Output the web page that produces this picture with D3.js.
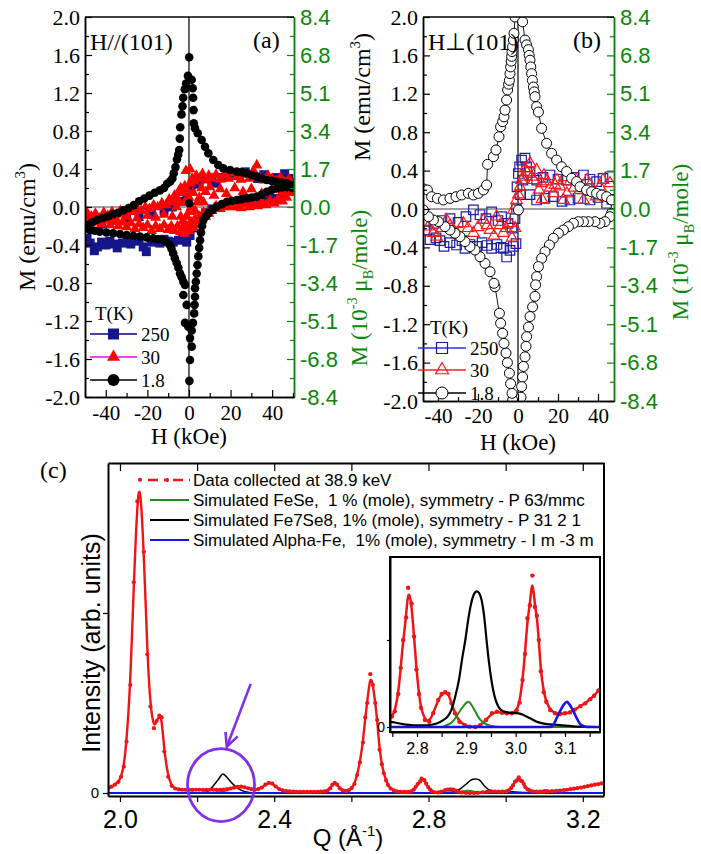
<!DOCTYPE html>
<html><head><meta charset="utf-8">
<script src="https://cdn.jsdelivr.net/npm/d3@7/dist/d3.min.js"></script>
<style>
html,body{margin:0;padding:0;background:#fff;}
svg{display:block;}
</style></head>
<body>
<svg id="fig" width="701" height="854"></svg>
<script>
// ---------- Panels (a) and (b): magnetization M (emu/cm3) vs field H (kOe) ----------
const mTicks = [-2.0,-1.6,-1.2,-0.8,-0.4,0.0,0.4,0.8,1.2,1.6,2.0];
const mMinorTicks = [-1.8,-1.4,-1.0,-0.6,-0.2,0.2,0.6,1.0,1.4,1.8];
const muTickLabels = ["-8.4","-6.8","-5.1","-3.4","-1.7","0.0","1.7","3.4","5.1","6.8","8.4"];
const hTicks = [-40,-20,0,20,40];
const hMinorTicks = [-50,-30,-10,10,30,50];
const temperatures = ["250","30","1.8"];

// H // (101)
const panelA_T250 = [[-49,-0.33],[-47.5,-0.38],[-45.5,-0.46],[-44,-0.42],[-42,-0.37],[-40,-0.4],[-38,-0.36],[-36,-0.39],[-34.5,-0.43],[-32,-0.38],[-30,-0.35],[-28,-0.39],[-26,-0.36],[-24,-0.34],[-22,-0.42],[-20.5,-0.47],[-18,-0.37],[-16,-0.35],[-14,-0.38],[-12,-0.34],[-10,-0.36],[-7.6,-0.37],[-5,-0.35],[-3,-0.33],[-1.1,-0.37],
  [-48,-0.2],[-42,-0.18],[-36,-0.14],[-30,-0.12],[-24,-0.1],[-18,-0.08],[-12,-0.04],[-8,0.0],[-4,0.06],[-1,0.12],[1,0.18],[3,0.24],[5,0.28],[8,0.3],[11,0.26],[13,0.25],[16,0.31],[19,0.35],[22,0.33],[25,0.36],[27,0.37],[30,0.32],[33,0.3],[36,0.34],[39,0.29],[42,0.31],[44,0.27],[46,0.35],[48,0.3],[49.5,0.26],
  [48,0.17],[45,0.12],[42,0.09],[40.6,0.074],[38,0.1],[35,0.06],[32,0.08],[29,0.05],[26,0.07],[23,0.03],[20,0.05],[17,0.02],[14,0.0],[11,-0.02],[8,-0.06],[6,-0.1],[4,-0.15],[2,-0.22],[0.5,-0.3]];

const panelA_T30 = [[-49,-0.06],[-47,-0.1],[-45,-0.07],[-43,-0.12],[-41,-0.06],[-39,-0.09],[-37,-0.05],[-35,-0.08],[-33,-0.04],[-31,-0.07],[-29,-0.03],[-27,-0.05],[-25,-0.02],[-23,-0.04],[-21,0.0],[-19,-0.02],[-17,0.02],[-15,0.0],[-13,0.04],[-11,0.02],[-9.5,0.08],[-8,0.05],[-7,0.12],[-6,0.1],[-5,0.16],[-4,0.2],[-3,0.15],[-2,0.22],[-1,0.18],[0.5,0.25],[1.5,0.3],[2.5,0.27],[3.5,0.33],[5,0.3],[6.5,0.35],[8,0.28],[9.5,0.33],[11,0.3],[13,0.34],[15,0.29],[17,0.33],[19,0.3],[21,0.36],[23,0.32],[25,0.29],[27,0.34],[29,0.3],[31,0.38],[32.6,0.44],[34,0.31],[36,0.28],[38,0.33],[40,0.3],[42,0.27],[44,0.31],[46,0.26],[48,0.29],[49.5,0.24],
  [49,0.15],[47,0.1],[45,0.06],[43,0.09],[41,0.04],[39,0.07],[37,0.02],[35,0.05],[33,0.01],[31,0.04],[29,0.0],[27,0.03],[25,-0.01],[23,0.02],[21,0.0],[19,0.03],[17,0.0],[15,-0.02],[13,0.01],[11,-0.04],[9.5,-0.07],[8,-0.1],[7,-0.06],[6,-0.14],[5,-0.1],[4,-0.18],[3,-0.12],[2,-0.22],[1,-0.16],[0,-0.25],[-1,-0.2],[-2,-0.28],[-3,-0.22],[-4,-0.26],[-5.5,-0.2],[-7,-0.25],[-8.5,-0.2],[-10,-0.24],[-12,-0.19],[-14,-0.23],[-16,-0.2],[-18,-0.25],[-20,-0.19],[-22,-0.22],[-24,-0.18],[-26,-0.23],[-28,-0.17],[-30,-0.21],[-32,-0.16],[-34,-0.2],[-36,-0.15],[-38,-0.19],[-40,-0.14],[-42,-0.18],[-44,-0.13],[-46,-0.16],[-48,-0.12],[-49.5,-0.15],
  [-6,0.0],[-4,-0.1],[-2,0.05],[0,-0.05],[0,0.1],[2,0.15],[4,0.05],[6,0.2],[-8,-0.1],[-3,-0.15],[3,-0.04],[5,0.1],[7,0.05],[-5,0.06],[-1,-0.1],[1,0.0],[8,0.16],[10,0.21],[12,0.12],[15,0.19],[18,0.14],[22,0.2],[26,0.16],[30,0.19],[35,0.14],[40,0.18],[45,0.15],[-12,-0.08],[-16,-0.11],[-20,-0.09],[-25,-0.12],[-30,-0.1],[-35,-0.13],[-40,-0.11],[-45,-0.09],[-1.5,0.38],[0.5,0.4]];

const panelA_T1p8 = [[-49,-0.19],[-46.5,-0.16],[-44,-0.135],[-41.5,-0.115],[-39,-0.1],[-36.5,-0.075],[-34,-0.06],[-31.5,-0.035],[-29,-0.01],[-26.5,0.02],[-24,0.06],[-21.5,0.09],[-19,0.12],[-16.5,0.15],[-14,0.175],[-12,0.2],[-10.5,0.245],[-9,0.27],[-8,0.3],[-7.3,0.355],[-6.5,0.42],[-5.8,0.5],[-5.2,0.55],[-4.7,0.6],[-4.4,0.72],[-4.2,0.84],[-3.6,0.975],[-3.1,1.06],[-2.8,1.15],[-2,1.24],[-1.4,1.3],[-0.5,1.38],[0.1,1.576],
  [1.3,1.34],[1.8,1.25],[2.0,1.15],[2.2,1.02],[2.3,0.88],[2.9,0.83],[4.2,0.776],[6.1,0.705],[7.7,0.635],[9.3,0.565],[11.7,0.495],[14.1,0.442],[16.5,0.407],[19.8,0.39],[23,0.372],[25.5,0.365],[27.8,0.355],[30.2,0.335],[32.6,0.32],[35,0.3],[37.4,0.284],[39.8,0.275],[42.3,0.266],[44.7,0.258],[47.1,0.25],[49.5,0.23],
  [49.5,0.2],[47.1,0.214],[44.7,0.205],[42.3,0.197],[39.8,0.18],[37.4,0.16],[35,0.13],[32.6,0.11],[30.2,0.1],[27.8,0.092],[25.4,0.083],[23,0.074],[20.6,0.065],[18.2,0.056],[15.8,0.03],[13.3,0.003],[11.3,-0.03],[9.3,-0.067],[8,-0.1],[6.9,-0.137],[6.3,-0.2],[5.8,-0.27],[5.3,-0.35],[4.9,-0.43],[4.5,-0.52],[4.1,-0.61],[3.7,-0.7],[3.3,-0.786],[2.9,-0.856],[2.9,-0.944],[2.7,-1.03],[2.5,-1.12],[1.9,-1.22],[1.3,-1.3],[1.3,-1.47],
  [0.5,-1.38],[-0.3,-1.26],[-1.9,-1.22],[-1.1,-1.03],[-2.7,-0.926],[-1.9,-0.82],[-2.7,-0.786],[-3.5,-0.74],[-4.3,-0.7],[-5.1,-0.64],[-5.9,-0.59],[-6.8,-0.54],[-7.6,-0.487],[-8.4,-0.44],[-9.2,-0.4],[-10.8,-0.37],[-12.4,-0.347],[-14.8,-0.34],[-17.2,-0.33],[-20.4,-0.32],[-23.6,-0.31],[-26.8,-0.302],[-30,-0.295],[-33.2,-0.285],[-36.5,-0.277],[-39.7,-0.268],[-42.9,-0.26],[-45.3,-0.25],[-47.7,-0.242],[-49.5,-0.22],
  [0.5,-1.61],[0.2,-1.83],[0.1,0.04]];

// H perpendicular to (101)
const panelB_T250 = [[-46.5,-0.22],[-44,-0.32],[-41,-0.3],[-39,-0.33],[-37,-0.39],[-34,-0.35],[-30.7,-0.375],[-28,-0.33],[-26.5,-0.41],[-24,-0.37],[-20.7,-0.39],[-18,-0.35],[-15.5,-0.38],[-13.2,-0.41],[-10.5,-0.37],[-8.5,-0.4],[-7.3,-0.41],[-5.7,-0.5],[-4,-0.43],[-2.3,-0.39],[-1,-0.36],
  [-45.7,-0.13],[-42,-0.15],[-38,-0.12],[-34,-0.1],[-30,-0.14],[-26,-0.08],[-22.3,-0.01],[-19,-0.06],[-16,-0.1],[-13.2,-0.03],[-10,-0.12],[-8.2,-0.08],[-5,-0.15],[-3,-0.2],[-1.5,-0.1],
  [-0.7,0.0],[-0.5,0.23],[0.2,0.37],[0.8,0.44],[1.8,0.51],[3.5,0.53],[4.3,0.44],[2.5,0.3],[1.2,0.15],
  [6,0.38],[9.3,0.3],[12.5,0.33],[16,0.354],[20,0.31],[24.3,0.3],[28,0.33],[32.7,0.354],[36,0.31],[39.3,0.285],[42.5,0.32],[46,0.336],
  [6,0.15],[9.3,0.094],[13.5,0.11],[17.7,0.128],[22,0.08],[26,0.094],[30,0.11],[36,0.094],[40,0.12],[44.3,0.06],[47,0.1]];

const panelB_T30 = [[-46.5,-0.14],[-44.8,-0.184],[-42.5,-0.25],[-40.7,-0.29],[-38,-0.2],[-35.7,-0.115],[-34,-0.17],[-32.3,-0.22],[-30,-0.27],[-27.3,-0.15],[-25,-0.2],[-22.3,-0.25],[-20,-0.19],[-17.3,-0.115],[-15.5,-0.17],[-14,-0.22],[-12,-0.28],[-10.7,-0.08],[-9,-0.17],[-7.3,-0.25],[-6,-0.2],[-4,-0.15],[-3,-0.3],[-2.3,-0.01],[-1.5,-0.2],[-0.7,0.094],
  [0.2,0.15],[1,0.23],[1.8,0.3],[2.7,0.336],[3.5,0.42],[4.5,0.38],[6,0.476],[6.8,0.336],[8,0.3],[9.3,0.406],[10.5,0.2],[11.8,0.268],[13,0.35],[14.3,0.285],[16,0.22],[17.7,0.163],[19.5,0.3],[21,0.233],[23,0.33],[24.5,0.16],[26,0.285],[28,0.22],[31,0.198],[32.7,0.094],[34.5,0.3],[36,0.25],[38,0.18],[41,0.233],[42.5,0.3],[44,0.12],[46,0.268],[22.7,0.094],[29,0.31],[39,0.13],[12,0.1],[18.5,0.25]];

const panelB_T1p8_initial = [[0.2,-0.01]];
const panelB_T1p8_up = [[-47.3,0.21],[-45.3,0.198],[-43.2,0.128],[-40.3,0.111],[-37.3,0.094],[-34,0.111],[-31,0.128],[-28.2,0.146],[-24.8,0.163],[-22.3,0.146],[-19.8,0.163],[-17.3,0.198],[-15.7,0.25],[-15.2,0.465],[-12.3,0.545],[-11,0.615],[-9.5,0.753],[-8.7,0.857],[-7.7,0.91],[-7,0.96],[-6.5,1.03],[-5.7,1.135],[-5.2,1.24],[-4.7,1.3],[-4.3,1.34],[-4,1.41],[-3.7,1.48],[-3.4,1.54],[-3.2,1.59],[-3,1.64],[-2.7,1.69],[-2.3,1.76],[-2,1.83],[-1.5,2.0],
  [2.3,1.95],[3.5,1.76],[4.3,1.71],[5.2,1.66],[5.6,1.6],[6,1.55],[6.4,1.48],[6.8,1.41],[7.2,1.34],[7.7,1.27],[8.1,1.22],[8.5,1.17],[9.3,1.066],[10.2,1.01],[11.8,0.84],[14.3,0.684],[16.8,0.58],[19.3,0.51],[21.8,0.44],[24.3,0.39],[26.8,0.32],[29.3,0.285],[31,0.232],[34.3,0.198],[36.8,0.18],[39.3,0.163],[41.8,0.146],[44.3,0.128],[46.8,0.094]];
const panelB_T1p8_down = [[46.8,-0.045],[46,-0.08],[43.5,-0.132],[41,-0.149],[38.5,-0.132],[35.2,-0.132],[32.7,-0.132],[30.2,-0.132],[27.7,-0.149],[25.2,-0.184],[22.7,-0.219],[20.2,-0.253],[17.7,-0.305],[15.7,-0.375],[13.5,-0.445],[11.8,-0.514],[10.2,-0.6],[9.3,-0.705],[8.8,-0.79],[8.5,-0.91],[7.3,-1.02],[6,-1.12],[5.2,-1.23],[4.3,-1.33],[4,-1.43],[3.5,-1.54],[2.7,-1.64],[2.3,-1.75],[1.8,-1.85],[1.5,-1.96],
  [-2.7,-1.99],[-3,-1.92],[-3.7,-1.82],[-4.3,-1.71],[-5.3,-1.6],[-6,-1.5],[-7,-1.4],[-7.7,-1.295],[-8.7,-1.19],[-9.3,-1.086],[-11.5,-0.81],[-12,-0.774],[-14,-0.653],[-16.5,-0.566],[-19,-0.497],[-21.5,-0.427],[-24,-0.392],[-26.5,-0.34],[-29,-0.288],[-31.5,-0.253],[-34,-0.219],[-36.5,-0.184],[-39.8,-0.132],[-42.3,-0.115],[-44.8,-0.08],[-47.3,-0.01]];

// ---------- Panel (c): diffraction intensity vs Q ----------
const qTicks = [2.0,2.2,2.4,2.6,2.8,3.0,3.2];
const qTickLabels = {"2.0":"2.0","2.4":"2.4","2.8":"2.8","3.2":"3.2"};
const insetTicks = [2.75,2.8,2.85,2.9,2.95,3.0,3.05,3.1,3.15];
const insetTickLabels = {"2.80":"2.8","2.90":"2.9","3.00":"3.0","3.10":"3.1"};
const intensityTicks = [0, 1];
const insetIntensityTicks = [0, 0.05];
const legendLabels = [
  "Data collected at 38.9 keV",
  "Simulated FeSe,  1 % (mole), symmetry - P 63/mmc",
  "Simulated Fe7Se8, 1% (mole), symmetry - P 31 2 1",
  "Simulated Alpha-Fe,  1% (mole), symmetry - I m -3 m"
];

const measured = [[1.970,0.028],[1.978,0.035],[1.987,0.046],[1.996,0.062],[2.003,0.09],[2.010,0.146],[2.017,0.285],[2.027,0.60],[2.036,1.17],[2.045,1.62],[2.052,1.74],[2.062,1.34],[2.071,0.77],[2.079,0.48],[2.088,0.36],[2.095,0.40],[2.102,0.43],[2.108,0.42],[2.115,0.23],[2.125,0.09],[2.134,0.04],[2.143,0.025],[2.152,0.02],[2.161,0.018],[2.170,0.018],[2.179,0.017],[2.188,0.017],[2.197,0.018],[2.206,0.018],[2.215,0.017],[2.224,0.017],[2.233,0.018],[2.242,0.018],[2.251,0.017],[2.260,0.018],[2.269,0.019],[2.278,0.021],[2.287,0.025],[2.296,0.030],[2.305,0.034],[2.314,0.035],[2.323,0.032],[2.332,0.026],[2.341,0.021],[2.350,0.019],[2.359,0.022],[2.368,0.030],[2.377,0.046],[2.386,0.057],[2.395,0.052],[2.404,0.036],[2.413,0.022],[2.422,0.014],[2.431,0.011],[2.440,0.009],[2.449,0.008],[2.458,0.007],[2.467,0.007],[2.476,0.006],[2.485,0.006],[2.494,0.006],[2.503,0.007],[2.512,0.007],[2.521,0.008],[2.530,0.009],[2.538,0.013],[2.545,0.026],[2.551,0.046],[2.557,0.056],[2.563,0.046],[2.570,0.026],[2.578,0.014],[2.586,0.011],[2.594,0.016],[2.601,0.028],[2.608,0.050],[2.615,0.100],[2.622,0.170],[2.630,0.280],[2.636,0.420],[2.641,0.500],[2.649,0.660],[2.656,0.600],[2.662,0.500],[2.667,0.405],[2.673,0.240],[2.679,0.160],[2.684,0.109],[2.690,0.070],[2.695,0.044],[2.702,0.025],[2.710,0.014],[2.718,0.009],[2.727,0.007],[2.736,0.006],[2.743,0.0055],
  [2.749,0.006],[2.755,0.009],[2.762,0.019],[2.767,0.034],[2.772,0.050],[2.778,0.063],[2.782,0.080],[2.789,0.071],[2.794,0.052],[2.799,0.033],[2.804,0.019],[2.808,0.011],[2.816,0.004],[2.825,0.003],[2.833,0.008],[2.843,0.0155],[2.850,0.019],[2.857,0.020],[2.864,0.019],[2.870,0.0136],[2.877,0.0079],[2.886,0.003],[2.897,0.0011],[2.907,0.0002],[2.918,0.0],[2.928,0.001],[2.940,0.004],[2.952,0.0079],[2.962,0.0088],[2.972,0.0082],[2.982,0.0079],[2.992,0.0079],[3.002,0.0095],[3.008,0.014],[3.014,0.027],[3.019,0.042],[3.024,0.0625],[3.029,0.070],[3.034,0.087],[3.039,0.069],[3.043,0.064],[3.047,0.050],[3.051,0.032],[3.057,0.020],[3.062,0.0145],[3.070,0.0098],[3.080,0.0079],[3.090,0.0075],[3.100,0.0079],[3.110,0.0084],[3.120,0.010],[3.131,0.012],[3.141,0.0136],[3.151,0.016],[3.159,0.018],[3.168,0.021],[3.177,0.024],[3.186,0.027],[3.195,0.030],[3.204,0.034],[3.213,0.038],[3.222,0.042],[3.231,0.046],[3.240,0.049],[3.249,0.053]];

const simFeSe = [[1.969,0],[2.235,0],[2.25,0.003],[2.265,0.008],[2.28,0.003],[2.295,0],[2.85,0],[2.86,0.001],[2.872,0.003],[2.882,0.007],[2.89,0.0105],[2.897,0.013],[2.904,0.0145],[2.911,0.0125],[2.918,0.009],[2.926,0.005],[2.935,0.0025],[2.945,0.001],[2.96,0.0002],[2.975,0],[3.255,0]];
const simFe7Se8 = [[1.969,0],[2.2,0],[2.215,0.002],[2.225,0.006],[2.24,0.035],[2.255,0.075],[2.267,0.106],[2.28,0.08],[2.295,0.045],[2.31,0.02],[2.325,0.007],[2.34,0.002],[2.36,0],[2.70,0],[2.72,0.002],[2.745,0.003],[2.765,0.002],[2.792,0.001],[2.82,0.001],[2.84,0.002],[2.853,0.004],[2.862,0.006],[2.87,0.01],[2.878,0.018],[2.885,0.027],[2.892,0.04],[2.898,0.05],[2.904,0.062],[2.909,0.07],[2.915,0.076],[2.921,0.078],[2.926,0.077],[2.931,0.073],[2.936,0.064],[2.941,0.05],[2.946,0.037],[2.952,0.025],[2.957,0.018],[2.962,0.0135],[2.968,0.0105],[2.975,0.009],[2.985,0.0083],[2.995,0.008],[3.006,0.0078],[3.015,0.007],[3.022,0.006],[3.033,0.0045],[3.043,0.003],[3.053,0.0022],[3.063,0.0017],[3.078,0.0013],[3.09,0.0011],[3.11,0.0006],[3.131,0.0002],[3.165,0],[3.255,0]];
const simAlphaFe = [[1.969,0],[3.07,0],[3.077,0.0015],[3.083,0.005],[3.088,0.008],[3.093,0.0107],[3.098,0.013],[3.104,0.0145],[3.109,0.013],[3.114,0.0107],[3.119,0.008],[3.124,0.005],[3.13,0.002],[3.137,0.0006],[3.145,0],[3.255,0]];

// highlighted Fe7Se8 reflection: ellipse centre and arrow ends in (Q, I)
const highlightCentre = [2.262, 0.044];
const arrowFrom = [2.339, 0.606];
const arrowTo = [2.277, 0.257];

// ---------------------------------------------------------------
const svg = d3.select("#fig");
const SERIF = "'Liberation Serif','Times New Roman',serif";
const SANS = "'Liberation Sans',Arial,sans-serif";
const GREEN = "#0a870a";

function styleAxis(g, family, size, width) {
  g.attr("font-family", family).attr("font-size", size);
  g.select(".domain").attr("stroke-width", width || 1.5);
  g.selectAll(".tick line").attr("stroke-width", 1.2);
  return g;
}

function drawSymbol(sel, shape, size) {
  if (shape === "circle") return sel.append("circle").attr("r", size / 2);
  const type = shape === "square" ? d3.symbolSquare : d3.symbolTriangle;
  const area = shape === "square" ? size * size : Math.sqrt(3) / 4 * size * size;
  return sel.append("path").attr("d", d3.symbol().type(type).size(area)());
}

// text with super- (-1) and subscript (+1) pieces; shifts in px of the base size
function supText(sel, base, parts) {
  const off = s => s < 0 ? -0.42 * base : s > 0 ? 0.25 * base : 0;
  let prev = 0;
  parts.forEach(([t, s]) => {
    const ts = sel.append("tspan").text(t);
    const dy = off(s) - off(prev);
    if (dy !== 0) ts.attr("dy", dy);
    if (s !== 0) ts.attr("font-size", 0.62 * base);
    prev = s;
  });
}

function magnetPanel(p) {
  const x = d3.scaleLinear().domain(p.hDomain).range([p.left, p.right]);
  const y = d3.scaleLinear().domain([-2, 2]).range([p.bottom, p.top]);
  const yMu = d3.scaleLinear().domain([-8.4, 8.4]).range([p.bottom, p.top]);
  const g = svg.append("g");

  g.append("clipPath").attr("id", p.id + "clip").append("rect")
    .attr("x", p.left).attr("y", p.top).attr("width", p.right - p.left).attr("height", p.bottom - p.top);
  const body = g.append("g").attr("clip-path", `url(#${p.id}clip)`);

  body.append("line").attr("x1", p.left).attr("x2", p.right).attr("y1", y(0)).attr("y2", y(0))
    .attr("stroke", "#808080").attr("stroke-width", 1.5);
  body.append("line").attr("x1", x(0)).attr("x2", x(0)).attr("y1", p.top).attr("y2", p.bottom)
    .attr("stroke", "#000").attr("stroke-width", 1.2);

  p.series.forEach(s => {
    if (s.line) {
      s.line.forEach(arr => body.append("path").datum(arr)
        .attr("d", d3.line().x(d => x(d[0])).y(d => y(d[1])))
        .attr("fill", "none").attr("stroke", s.stroke).attr("stroke-width", 0.9));
    }
    s.data.forEach(arr => {
      body.append("g").selectAll("g").data(arr).join("g")
        .attr("transform", d => `translate(${x(d[0])},${y(d[1])})`)
        .each(function () {
          drawSymbol(d3.select(this), s.shape, s.size)
            .attr("fill", s.fill).attr("stroke", s.stroke).attr("stroke-width", s.sw);
        });
    });
  });

  // axes
  const dom = p.hDomain;
  styleAxis(g.append("g").attr("transform", `translate(${p.left},0)`)
    .call(d3.axisLeft(y).tickValues(mTicks).tickSize(-7).tickSizeOuter(0).tickPadding(5).tickFormat(d => d.toFixed(1))), SERIF, 22);
  styleAxis(g.append("g").attr("transform", `translate(${p.left},0)`)
    .call(d3.axisLeft(y).tickValues(mMinorTicks).tickSize(-4).tickSizeOuter(0).tickFormat("")), SERIF, 22);
  const muVals = mTicks.map(v => v * 4.2);
  const ra = g.append("g").attr("transform", `translate(${p.right},0)`).attr("color", GREEN)
    .call(d3.axisRight(yMu).tickValues(muVals).tickSize(-7).tickSizeOuter(0).tickPadding(6).tickFormat((d, i) => muTickLabels[i]));
  styleAxis(ra, SANS, 22);
  styleAxis(g.append("g").attr("transform", `translate(${p.right},0)`).attr("color", GREEN)
    .call(d3.axisRight(yMu).tickValues(mMinorTicks.map(v => v * 4.2)).tickSize(-4).tickSizeOuter(0).tickFormat("")), SANS, 22);
  styleAxis(g.append("g").attr("transform", `translate(0,${p.bottom})`)
    .call(d3.axisBottom(x).tickValues(hTicks).tickSize(-7).tickSizeOuter(0).tickPadding(p.xPad).tickFormat(d => String(d))), SERIF, 21);
  styleAxis(g.append("g").attr("transform", `translate(0,${p.bottom})`)
    .call(d3.axisBottom(x).tickValues(hMinorTicks.filter(v => v >= dom[0] && v <= dom[1])).tickSize(-4).tickSizeOuter(0).tickFormat("")), SERIF, 21);
  g.append("line").attr("x1", p.left).attr("x2", p.right).attr("y1", p.top).attr("y2", p.top)
    .attr("stroke", "#000").attr("stroke-width", 1.5);

  // titles
  g.append("text").attr("x", (p.left + p.right) / 2 + p.hTitleDx).attr("y", p.hTitleY)
    .attr("text-anchor", "middle").attr("font-family", SERIF).attr("font-size", 23).text("H (kOe)");
  const mt = g.append("text").attr("transform", `translate(${p.mTitle[0]},${p.mTitle[1]}) rotate(-90)`)
    .attr("text-anchor", "middle").attr("font-family", SERIF).attr("font-size", 24);
  supText(mt, 24, [["M (emu/cm", 0], ["3", -1], [")", 0]]);
  const gt = g.append("text").attr("transform", `translate(${p.muTitle[0]},${p.muTitle[1]}) rotate(-90)`)
    .attr("text-anchor", "middle").attr("font-family", SERIF).attr("font-size", 23).attr("fill", GREEN);
  supText(gt, 23, [["M (10", 0], ["-3", -1], [" \u03bc", 0], ["B", 1], ["/mole)", 0]]);

  g.append("text").attr("x", p.left + 5).attr("y", p.top + 33).attr("font-family", SERIF).attr("font-size", 24).text(p.tag);
  g.append("text").attr("x", p.right - 41).attr("y", p.top + 31).attr("font-family", SERIF).attr("font-size", 24).text(p.letter);

  // legend
  const lg = g.append("g").attr("font-family", SERIF).attr("font-size", 19);
  lg.append("text").attr("x", p.legend.x0 + p.legend.titleDx).attr("y", p.legend.y0).attr("dy", "0.35em").text("T(K)");
  p.series.forEach((s, i) => {
    const yy = p.legend.rows[i];
    lg.append("line").attr("x1", p.legend.x0).attr("x2", p.legend.x1).attr("y1", yy).attr("y2", yy)
      .attr("stroke", s.legendLine).attr("stroke-width", 1.5);
    drawSymbol(lg.append("g").attr("transform", `translate(${(p.legend.x0 + p.legend.x1) / 2},${yy})`), s.shape, s.legendSize)
      .attr("fill", s.fill).attr("stroke", s.stroke).attr("stroke-width", s.sw);
    lg.append("text").attr("x", p.legend.x1 + 4).attr("y", yy).attr("dy", "0.35em").text(temperatures[i]);
  });
}

magnetPanel({
  id: "pa", left: 85, right: 294, top: 17, bottom: 397, hDomain: [-50, 50.5], xPad: 8,
  hTitleDx: -0.5, hTitleY: 444, mTitle: [35, 227], muTitle: [367, 288], tag: "H//(101)", letter: "(a)",
  legend: { x0: 90, x1: 137, titleDx: 5, y0: 313, rows: [334, 357, 380] },
  series: [
    { data: [panelA_T250], shape: "square", size: 9, fill: "#16168c", stroke: "none", sw: 0, legendLine: "#000080", legendSize: 11 },
    { data: [panelA_T30], shape: "triangle", size: 11, fill: "#ff0000", stroke: "none", sw: 0, legendLine: "#ff00ff", legendSize: 13 },
    { data: [panelA_T1p8], shape: "circle", size: 8.6, fill: "#000", stroke: "none", sw: 0, legendLine: "#000", legendSize: 12 }
  ]
});

magnetPanel({
  id: "pb", left: 423, right: 614, top: 17, bottom: 401, hDomain: [-47.5, 48], xPad: 7,
  hTitleDx: -0.5, hTitleY: 450, mTitle: [370, 97], muTitle: [688, 242], tag: "H\u22a5(101)", letter: "(b)",
  legend: { x0: 418, x1: 466, titleDx: 12, y0: 327, rows: [348, 370, 393] },
  series: [
    { data: [panelB_T250], shape: "square", size: 9.5, fill: "none", stroke: "#1c1ca6", sw: 1.2, legendLine: "#2b2bff", legendSize: 11 },
    { data: [panelB_T30], shape: "triangle", size: 11.5, fill: "none", stroke: "#ff1a1a", sw: 1.2, legendLine: "#ff2020", legendSize: 13 },
    { data: [panelB_T1p8_up, panelB_T1p8_down, panelB_T1p8_initial], line: [panelB_T1p8_up, panelB_T1p8_down], shape: "circle", size: 10, fill: "#fff", stroke: "#000", sw: 1, legendLine: "#000", legendSize: 12 }
  ]
});

// ---------- panel (c) ----------
const RED = "#f01414", SGREEN = "#1f8c1f", SBLUE = "#1414e6";
const xC = d3.scaleLinear().domain([1.969, 3.255]).range([108, 604]);
const yC = d3.scaleLinear().domain([-0.0167, 1.833]).range([796, 463]);
const gc = svg.append("g");
gc.append("clipPath").attr("id", "pcclip").append("rect").attr("x", 108).attr("y", 463).attr("width", 496).attr("height", 333);
const cBody = gc.append("g").attr("clip-path", "url(#pcclip)");

function simCurve(sel, data, x, y, color, w) {
  sel.append("path").datum(data)
    .attr("d", d3.line().curve(d3.curveMonotoneX).x(d => x(d[0])).y(d => y(d[1])))
    .attr("fill", "none").attr("stroke", color).attr("stroke-width", w);
}
function measuredCurve(sel, x, y, r, w) {
  sel.append("path").datum(measured)
    .attr("d", d3.line().curve(d3.curveBasis).x(d => x(d[0])).y(d => y(d[1])))
    .attr("fill", "none").attr("stroke", RED).attr("stroke-width", w);
  sel.append("g").selectAll("circle").data(measured).join("circle")
    .attr("cx", d => x(d[0])).attr("cy", d => y(d[1])).attr("r", r).attr("fill", RED);
}

simCurve(cBody, simFeSe, xC, yC, SGREEN, 1.5);
simCurve(cBody, simFe7Se8, xC, yC, "#000", 1.5);
simCurve(cBody, simAlphaFe, xC, yC, SBLUE, 2.2);
measuredCurve(cBody, xC, yC, 2.1, 2.4);

// axes of (c)
styleAxis(gc.append("g").attr("transform", "translate(0,796)")
  .call(d3.axisBottom(xC).tickValues(qTicks).tickSize(6).tickSizeOuter(0).tickPadding(8)
    .tickFormat(d => qTickLabels[d.toFixed(1)] || "")), SANS, 25, 2);
styleAxis(gc.append("g").attr("transform", "translate(0,463)")
  .call(d3.axisTop(xC).tickValues(qTicks).tickSize(-8).tickSizeOuter(0).tickFormat("")), SANS, 25, 2);
styleAxis(gc.append("g").attr("transform", "translate(108,0)")
  .call(d3.axisLeft(yC).tickValues(intensityTicks).tickSize(5).tickSizeOuter(0).tickPadding(4)
    .tickFormat(d => d === 0 ? "0" : "")), SANS, 15, 2);
gc.append("line").attr("x1", 604).attr("x2", 604).attr("y1", 463).attr("y2", 796).attr("stroke", "#000").attr("stroke-width", 2);

const qt = gc.append("text").attr("x", 348).attr("y", 846).attr("text-anchor", "middle")
  .attr("font-family", SANS).attr("font-size", 24);
supText(qt, 24, [["Q (\u00c5", 0], ["-1", -1], [")", 0]]);
gc.append("text").attr("transform", "translate(100,643) rotate(-90)").attr("text-anchor", "middle")
  .attr("font-family", SANS).attr("font-size", 25).text("Intensity (arb. units)");
gc.append("text").attr("x", 40).attr("y", 478).attr("font-family", SERIF).attr("font-size", 24).text("(c)");

// legend of (c)
const lgc = gc.append("g").attr("font-family", SANS).attr("font-size", 17);
const legendColors = [RED, SGREEN, "#000", SBLUE];
legendLabels.forEach((t, i) => {
  const yy = 480 + i * 20;
  if (i === 0) {
    lgc.append("line").attr("x1", 148).attr("x2", 190).attr("y1", yy).attr("y2", yy)
      .attr("stroke", RED).attr("stroke-width", 2.6).attr("stroke-dasharray", "10,6,3,6");
    lgc.append("circle").attr("cx", 167).attr("cy", yy).attr("r", 2).attr("fill", RED);
  } else {
    lgc.append("line").attr("x1", 150).attr("x2", 189).attr("y1", yy).attr("y2", yy)
      .attr("stroke", legendColors[i]).attr("stroke-width", 2);
  }
  // keep the doubled spaces of the labels visible
  lgc.append("text").attr("x", 193).attr("y", yy).attr("dy", "0.36em").text(t.replace(/  /g, " \u00a0"));
});

// highlight of the Fe7Se8 reflection
const VIOLET = "#8030e8";
gc.append("ellipse").attr("cx", xC(highlightCentre[0])).attr("cy", yC(highlightCentre[1]))
  .attr("rx", 33.5).attr("ry", 36.5).attr("fill", "none").attr("stroke", VIOLET).attr("stroke-width", 2.8);
{
  const x1 = xC(arrowFrom[0]), y1 = yC(arrowFrom[1]), x2 = xC(arrowTo[0]), y2 = yC(arrowTo[1]);
  const ang = Math.atan2(y2 - y1, x2 - x1), L = 15, spread = 0.45;
  gc.append("line").attr("x1", x1).attr("y1", y1).attr("x2", x2).attr("y2", y2)
    .attr("stroke", VIOLET).attr("stroke-width", 2.6);
  gc.append("path").attr("d",
    `M${x2 - L * Math.cos(ang - spread)},${y2 - L * Math.sin(ang - spread)}L${x2},${y2}L${x2 - L * Math.cos(ang + spread)},${y2 - L * Math.sin(ang + spread)}`)
    .attr("fill", "none").attr("stroke", VIOLET).attr("stroke-width", 2.6).attr("stroke-linejoin", "miter");
}

// ---------- inset ----------
const xI = d3.scaleLinear().domain([2.7453, 3.171]).range([390, 600]);
const yI = d3.scaleLinear().domain([-0.00287, 0.0977]).range([732, 557]);
const gi = svg.append("g");
gi.append("rect").attr("x", 390).attr("y", 557).attr("width", 210).attr("height", 175).attr("fill", "#fff");
gi.append("clipPath").attr("id", "piclip").append("rect").attr("x", 390).attr("y", 557).attr("width", 210).attr("height", 175);
const iBody = gi.append("g").attr("clip-path", "url(#piclip)");
measuredCurve(iBody, xI, yI, 2.2, 2.5);
simCurve(iBody, simFeSe, xI, yI, SGREEN, 2);
simCurve(iBody, simFe7Se8, xI, yI, "#000", 2.2);
simCurve(iBody, simAlphaFe, xI, yI, SBLUE, 2.6);
gi.append("rect").attr("x", 390).attr("y", 557).attr("width", 210).attr("height", 175)
  .attr("fill", "none").attr("stroke", "#000").attr("stroke-width", 2);
styleAxis(gi.append("g").attr("transform", "translate(0,732)")
  .call(d3.axisBottom(xI).tickValues(insetTicks).tickSize(5).tickSizeOuter(0).tickPadding(6)
    .tickFormat(d => insetTickLabels[d.toFixed(2)] || "")), SANS, 16, 2);
styleAxis(gi.append("g").attr("transform", "translate(390,0)")
  .call(d3.axisLeft(yI).tickValues(insetIntensityTicks).tickSize(3).tickSizeOuter(0).tickPadding(2)
    .tickFormat(d => d === 0 ? "0" : "")), SANS, 14, 2);
</script>
</body></html>
